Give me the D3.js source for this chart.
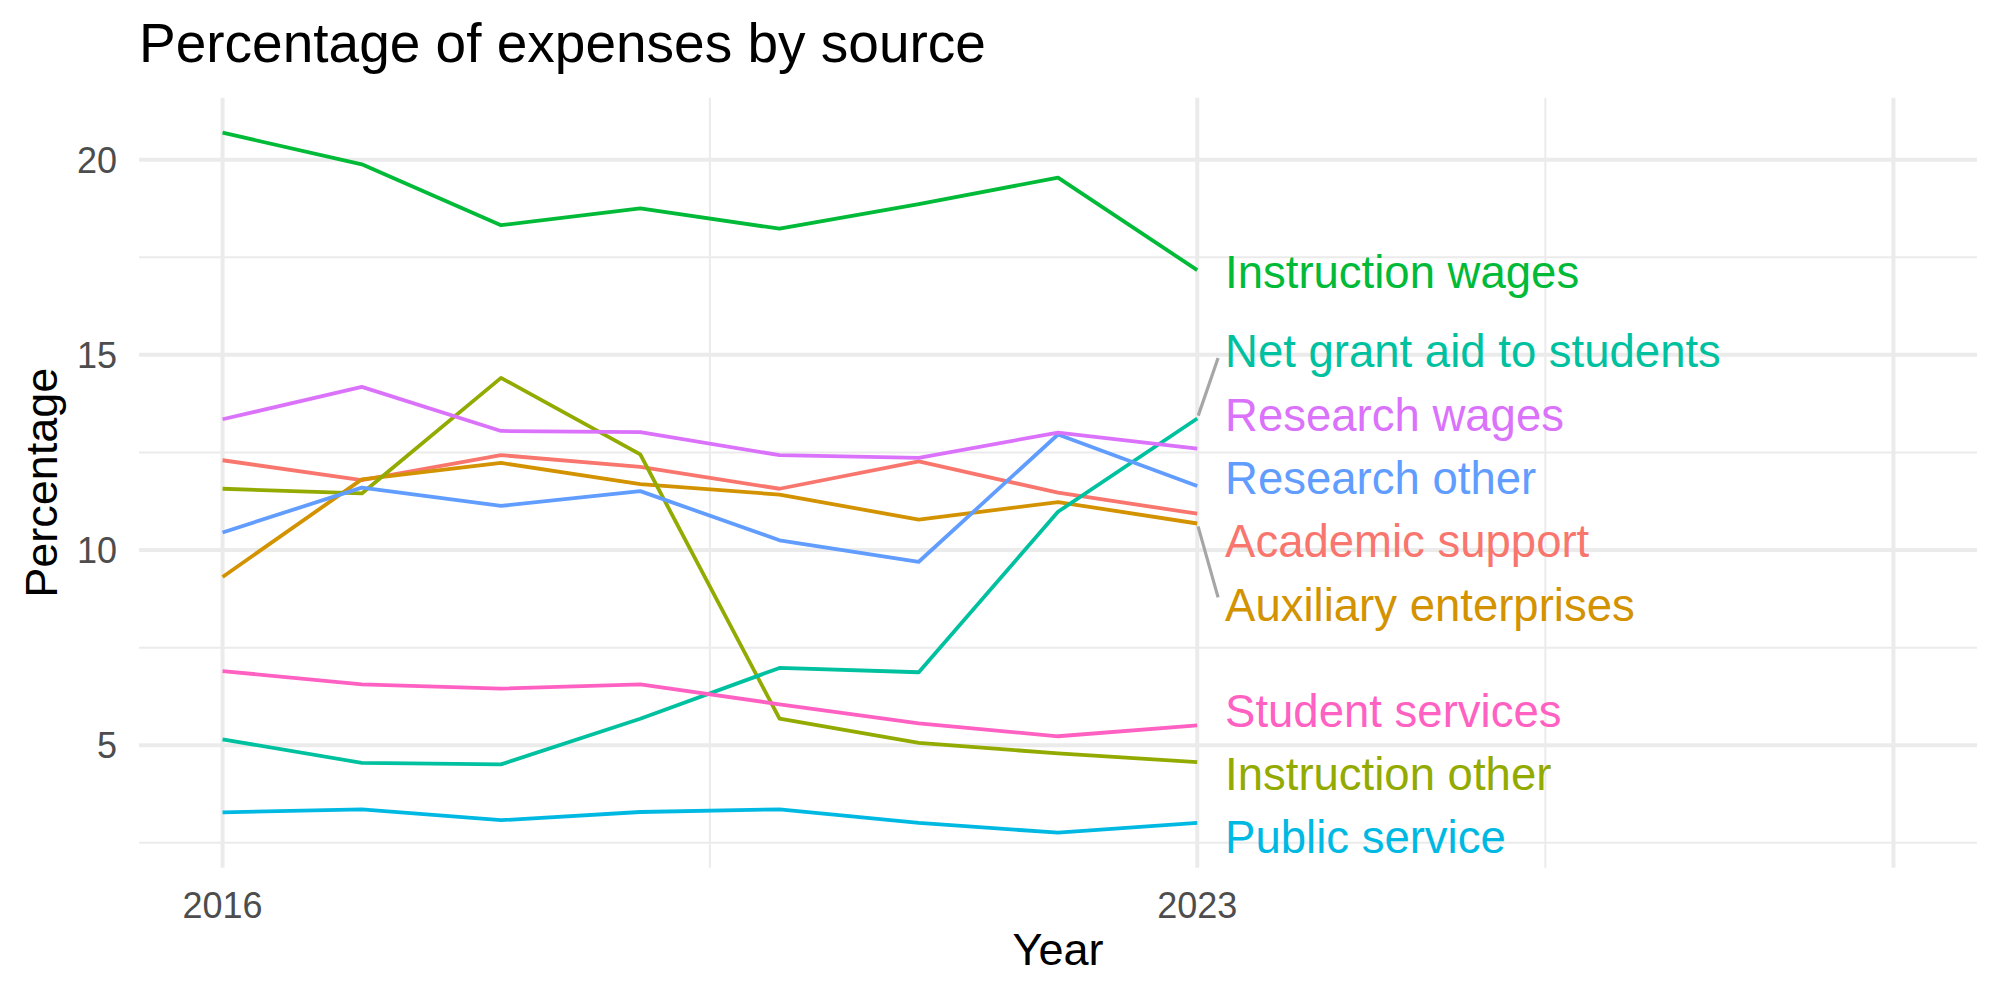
<!DOCTYPE html>
<html>
<head>
<meta charset="utf-8">
<script src="https://cdn.jsdelivr.net/npm/d3@7"></script>
<style>
body { margin: 0; background: white; }
text { font-family: "Liberation Sans", Arial, sans-serif; }
</style>
</head>
<body>
<svg id="chart"></svg>
<script>
// data
var years = [2016, 2017, 2018, 2019, 2020, 2021, 2022, 2023];
var categories = ["Academic support", "Auxiliary enterprises", "Instruction other",
  "Instruction wages", "Net grant aid to students", "Public service",
  "Research other", "Research wages", "Student services"];
var academicSupport   = [12.30, 11.79, 12.43, 12.13, 11.57, 12.27, 11.47, 10.93];
var auxiliary         = [9.31, 11.81, 12.23, 11.69, 11.42, 10.78, 11.23, 10.68];
var instructionOther  = [11.57, 11.45, 14.41, 12.45, 5.68, 5.06, 4.79, 4.57];
var instructionWages  = [20.69, 19.88, 18.32, 18.75, 18.23, 18.86, 19.54, 17.17];
var netGrantAid       = [5.15, 4.55, 4.51, 5.68, 6.98, 6.87, 10.98, 13.37];
var publicService     = [3.28, 3.36, 3.08, 3.29, 3.36, 3.01, 2.76, 3.01];
var researchOther     = [10.45, 11.60, 11.13, 11.51, 10.25, 9.70, 12.96, 11.64];
var researchWages     = [13.35, 14.18, 13.05, 13.02, 12.43, 12.36, 13.01, 12.60];
var studentServices   = [6.90, 6.56, 6.45, 6.56, 6.05, 5.56, 5.23, 5.51];
// repelled label positions (percentage units), same order as categories
var labelValues = [10.23, 8.61, 4.27, 17.12, 15.10, 2.67, 11.85, 13.46, 5.89];
var colors = ["#F8766D", "#D39200", "#93AA00", "#00BA38", "#00C19F",
  "#00B9E3", "#619CFF", "#DB72FB", "#FF61C3"];
var xBreaks = [2016, 2023, 2028];
var xLabels = ["2016", "2023", ""];
var xMinor = [2019.5, 2025.5];
var yBreaks = [5, 10, 15, 20];
var yMinor = [2.5, 7.5, 12.5, 17.5];
var xLimits = [2016, 2028];

var seriesValues = [academicSupport, auxiliary, instructionOther, instructionWages,
  netGrantAid, publicService, researchOther, researchWages, studentServices];
var series = categories.map(function(c, i) {
  return {name: c, values: seriesValues[i], color: colors[i], labelY: labelValues[i]};
});

const width = 2000, height = 1000;
var panel = {left: 139, right: 1977, top: 97.7, bottom: 867.7};
var svg = d3.select("#chart").attr("width", width).attr("height", height);

var xpad = (xLimits[1] - xLimits[0]) * 0.05;
var xscale = d3.scaleLinear().domain([xLimits[0] - xpad, xLimits[1] + xpad])
  .range([panel.left, panel.right]);
var ymin = d3.min(seriesValues, function(a) { return d3.min(a); });
var ymax = d3.max(seriesValues, function(a) { return d3.max(a); });
var ypad = (ymax - ymin) * 0.05;
var yscale = d3.scaleLinear().domain([ymin - ypad, ymax + ypad])
  .range([panel.bottom, panel.top]);

// grid
var grid = svg.append("g");
grid.selectAll(".hminor").data(yMinor).enter().append("line")
  .attr("x1", panel.left).attr("x2", panel.right)
  .attr("y1", yscale).attr("y2", yscale)
  .attr("stroke", "#EBEBEB").attr("stroke-width", 2);
grid.selectAll(".vminor").data(xMinor).enter().append("line")
  .attr("y1", panel.top).attr("y2", panel.bottom)
  .attr("x1", xscale).attr("x2", xscale)
  .attr("stroke", "#EBEBEB").attr("stroke-width", 2);
grid.selectAll(".hmajor").data(yBreaks).enter().append("line")
  .attr("x1", panel.left).attr("x2", panel.right)
  .attr("y1", yscale).attr("y2", yscale)
  .attr("stroke", "#EBEBEB").attr("stroke-width", 4);
grid.selectAll(".vmajor").data(xBreaks).enter().append("line")
  .attr("y1", panel.top).attr("y2", panel.bottom)
  .attr("x1", xscale).attr("x2", xscale)
  .attr("stroke", "#EBEBEB").attr("stroke-width", 4);

// axes tick labels
svg.append("g").selectAll("text").data(yBreaks).enter().append("text")
  .attr("x", 117).attr("y", function(d) { return yscale(d); })
  .attr("dy", "0.36em").attr("text-anchor", "end")
  .attr("font-size", 36).attr("fill", "#4D4D4D")
  .text(function(d) { return d; });
svg.append("g").selectAll("text").data(xBreaks).enter().append("text")
  .attr("x", xscale).attr("y", 918)
  .attr("text-anchor", "middle")
  .attr("font-size", 36).attr("fill", "#4D4D4D")
  .text(function(d, i) { return xLabels[i]; });

// axis titles and plot title
svg.append("text").attr("x", (panel.left + panel.right) / 2).attr("y", 965)
  .attr("text-anchor", "middle").attr("font-size", 45).text("Year");
svg.append("text").attr("transform", "translate(57," + ((panel.top + panel.bottom) / 2) + ") rotate(-90)")
  .attr("text-anchor", "middle").attr("font-size", 45).text("Percentage");
svg.append("text").attr("x", 139).attr("y", 62)
  .attr("font-size", 55).text("Percentage of expenses by source");

// lines
var line = d3.line()
  .x(function(d, i) { return xscale(years[i]); })
  .y(function(d) { return yscale(d); });

svg.append("g").selectAll("path").data(series).enter().append("path")
  .attr("d", function(s) { return line(s.values); })
  .attr("fill", "none")
  .attr("stroke", function(s) { return s.color; })
  .attr("stroke-width", 3.8)
  .attr("stroke-linejoin", "round");

// labels with repel segments
var lastYear = years[years.length - 1];
var labelX = xscale(lastYear + 0.2);
var segs = svg.append("g");
series.forEach(function(s) {
  var px = xscale(lastYear), py = yscale(s.values[s.values.length - 1]);
  var ly = yscale(s.labelY);
  if (Math.abs(ly - py) > 50) {
    var ex = labelX - 7, ey = ly + (py > ly ? 7 : -7);
    var dx = ex - px, dy = ey - py, len = Math.sqrt(dx * dx + dy * dy);
    segs.append("line")
      .attr("x1", px + dx / len * 3).attr("y1", py + dy / len * 3)
      .attr("x2", ex).attr("y2", ey)
      .attr("stroke", "#A6A6A6").attr("stroke-width", 3.2);
  }
});
svg.append("g").selectAll("text").data(series).enter().append("text")
  .attr("x", labelX).attr("y", function(s) { return yscale(s.labelY); })
  .attr("dy", "0.36em").attr("font-size", 45.5)
  .attr("fill", function(s) { return s.color; })
  .text(function(s) { return s.name; });
</script>
</body>
</html>
